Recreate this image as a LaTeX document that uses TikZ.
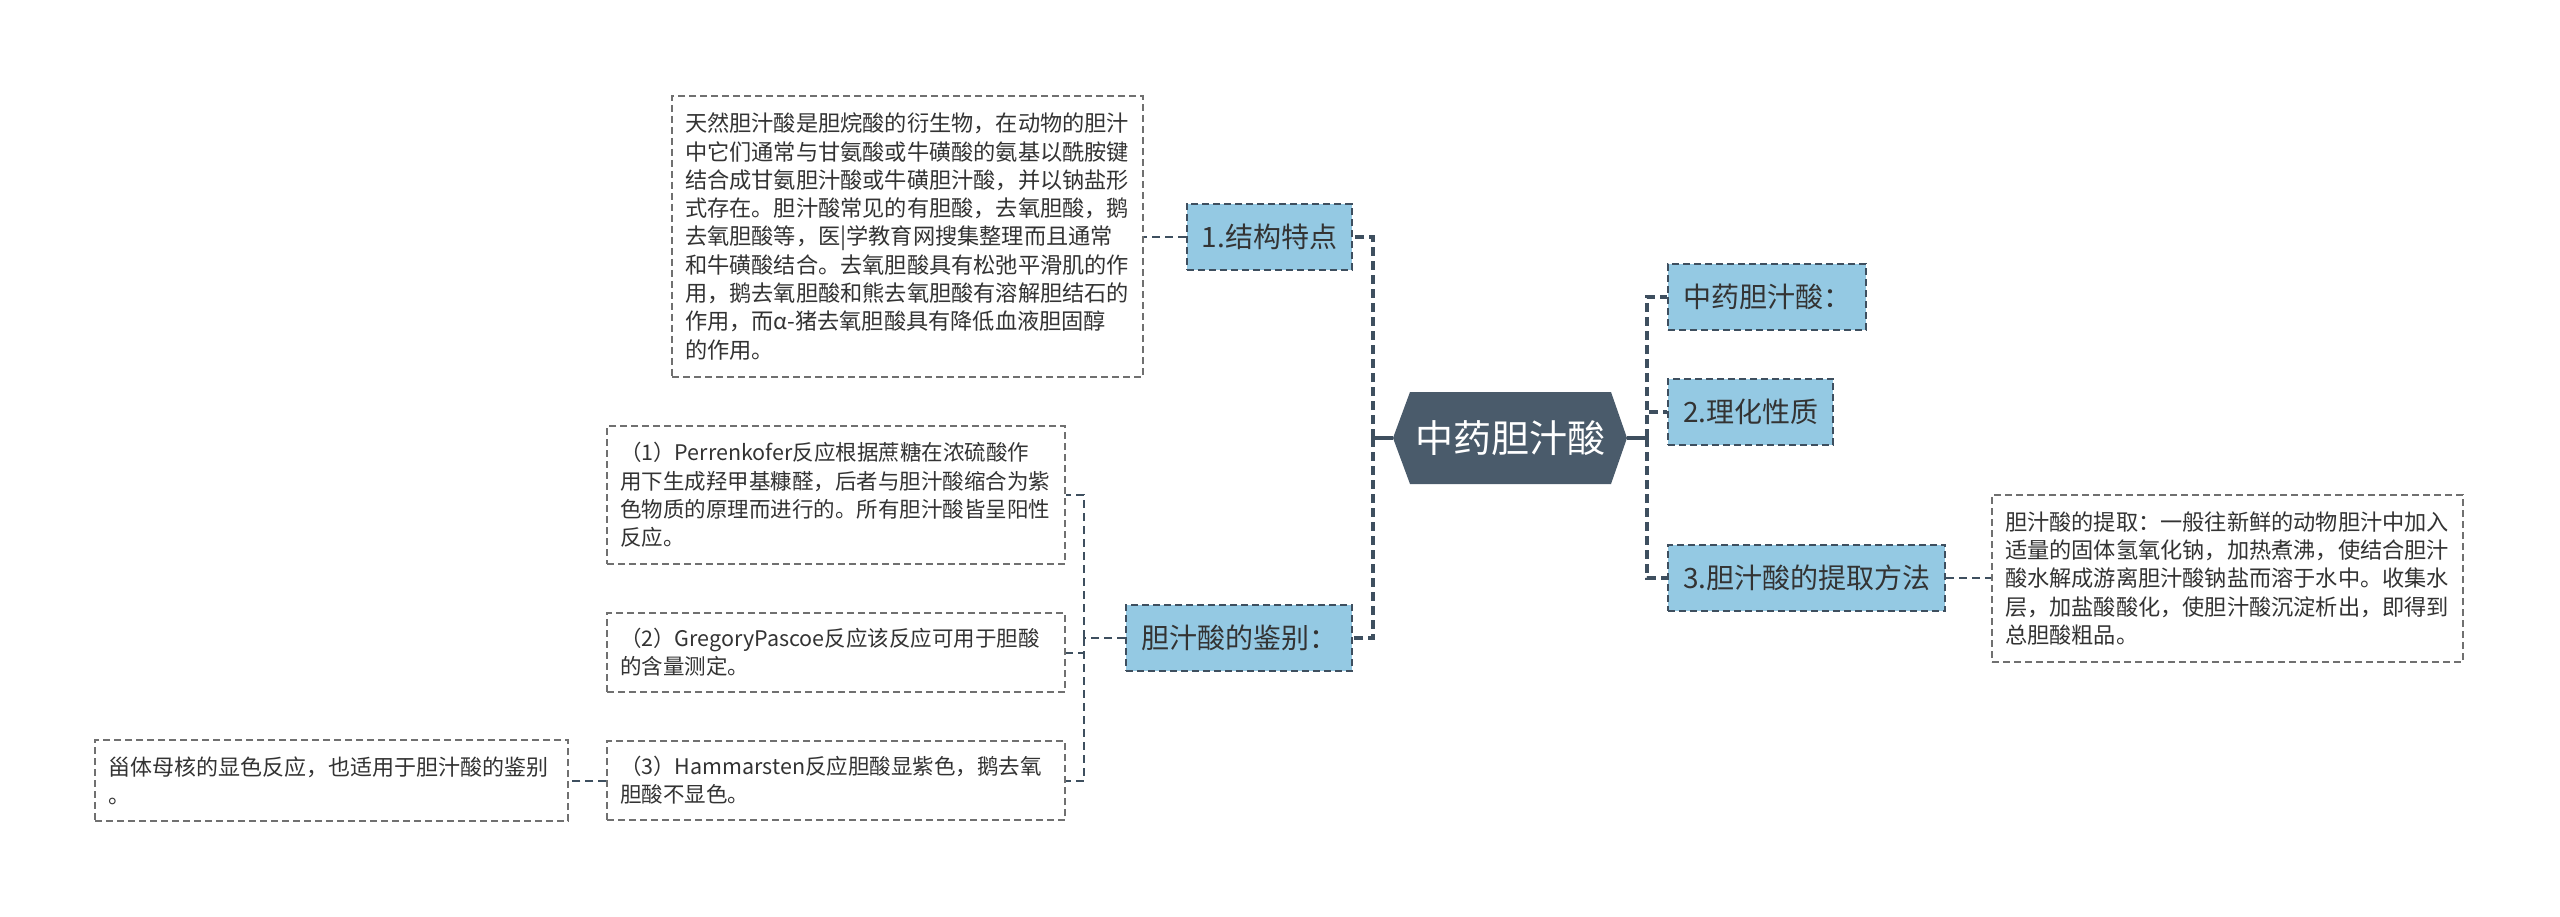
\documentclass[tikz,border=0pt]{standalone}
\usepackage{fontspec}
\setmainfont{Noto Sans CJK SC}
\usetikzlibrary{calc}
\definecolor{hexfill}{HTML}{4A5B6B}
\definecolor{bluefill}{HTML}{94C9E3}
\definecolor{darkline}{HTML}{3E4F5F}
\definecolor{leafline}{HTML}{707070}
\definecolor{txt}{HTML}{333333}
\tikzset{
  leafbox/.style={draw=leafline, line width=1.5pt, dash pattern=on 7pt off 4pt, fill=white,
    align=left, inner sep=0pt, text=txt, font=\fontsize{#1}{28.3}\selectfont},
  branchbox/.style={draw=darkline, line width=2pt, dash pattern=on 7pt off 4pt, fill=bluefill,
    inner xsep=15pt, inner ysep=0pt, minimum height=66pt, text=txt, font=\fontsize{28}{32}\selectfont},
  trunk/.style={draw=darkline, line width=3.5pt, dash pattern=on 9pt off 5pt},
  solidtrunk/.style={draw=darkline, line width=3.5pt},
  leafconn/.style={draw=darkline, line width=2pt, dash pattern=on 8pt off 5pt},
}
\begin{document}
\begin{tikzpicture}[x=1pt,y=-1pt]
\useasboundingbox[fill=white] (0,0) rectangle (2560,917);

% root hexagon
\fill[hexfill] (1393,438) -- (1410,392) -- (1611,392) -- (1627,438) -- (1611,484) -- (1410,484) -- cycle;
\node[minimum width=234pt, minimum height=92pt, inner sep=0pt, text=white, font=\fontsize{38}{42}\selectfont] (root) at (1510,438) {中药胆汁酸};

% right branches
\node[branchbox, anchor=west] (r1) at (1667,297) {中药胆汁酸：};
\node[branchbox, anchor=west] (r2) at (1667,412) {2.理化性质};
\node[branchbox, anchor=west] (r3) at (1667,578) {3.胆汁酸的提取方法};

% left branches
\node[branchbox, anchor=east] (l1) at (1353,237) {1.结构特点};
\node[branchbox, anchor=east] (l2) at (1353,638) {胆汁酸的鉴别：};

% leaves
\node[leafbox=22.2, minimum width=471pt, minimum height=281pt, text width=445pt] (tl) at (907.5,236.5) {天然胆汁酸是胆烷酸的衍生物，在动物的胆汁\\中它们通常与甘氨酸或牛磺酸的氨基以酰胺键\\结合成甘氨胆汁酸或牛磺胆汁酸，并以钠盐形\\式存在。胆汁酸常见的有胆酸，去氧胆酸，鹅\\去氧胆酸等，医|学教育网搜集整理而且通常\\和牛磺酸结合。去氧胆酸具有松弛平滑肌的作\\用，鹅去氧胆酸和熊去氧胆酸有溶解胆结石的\\作用，而α-猪去氧胆酸具有降低血液胆固醇\\的作用。};

\node[leafbox=21.5, minimum width=458pt, minimum height=138pt, text width=432pt] (k1) at (836,495) {（1）Perrenkofer反应根据蔗糖在浓硫酸作\\用下生成羟甲基糠醛，后者与胆汁酸缩合为紫\\色物质的原理而进行的。所有胆汁酸皆呈阳性\\反应。};
\node[leafbox=21.5, minimum width=458pt, minimum height=79pt, text width=432pt] (k2) at (836,652.5) {（2）GregoryPascoe反应该反应可用于胆酸\\的含量测定。};
\node[leafbox=21.5, minimum width=458pt, minimum height=79pt, text width=432pt] (k3) at (836,780.5) {（3）Hammarsten反应胆酸显紫色，鹅去氧\\胆酸不显色。};
\node[leafbox=22, minimum width=473pt, minimum height=81pt, text width=447pt] (bl) at (331.5,780.5) {甾体母核的显色反应，也适用于胆汁酸的鉴别\\。};

\node[leafbox=22.2, minimum width=471pt, minimum height=167pt, text width=445pt] (rl) at (2227.5,578.5) {胆汁酸的提取：一般往新鲜的动物胆汁中加入\\适量的固体氢氧化钠，加热煮沸，使结合胆汁\\酸水解成游离胆汁酸钠盐而溶于水中。收集水\\层，加盐酸酸化，使胆汁酸沉淀析出，即得到\\总胆酸粗品。};

% connectors
\coordinate (jr) at (1647,438);
\coordinate (jl) at (1373,438);
\coordinate (jk) at (1084,638);
\draw[solidtrunk] (root.east) -- (jr);
\draw[solidtrunk] (root.west) -- (jl);
\draw[trunk] (jr) |- (r1.west);
\draw[trunk] (jr) |- (r2.west);
\draw[trunk] (jr) |- (r3.west);
\draw[trunk] (jl) |- (l1.east);
\draw[trunk] (jl) |- (l2.east);

\draw[leafconn] (l1.west) -- (tl.east |- l1.west);
\draw[leafconn] (l2.west) -- (jk);
\draw[leafconn] (jk) |- (k1.east);
\draw[leafconn] (jk) |- (k2.east);
\draw[leafconn] (jk) |- (k3.east);
\draw[leafconn] (k3.west) -- (bl.east |- k3.west);
\draw[leafconn] (r3.east) -- (rl.west |- r3.east);
\end{tikzpicture}
\end{document}
